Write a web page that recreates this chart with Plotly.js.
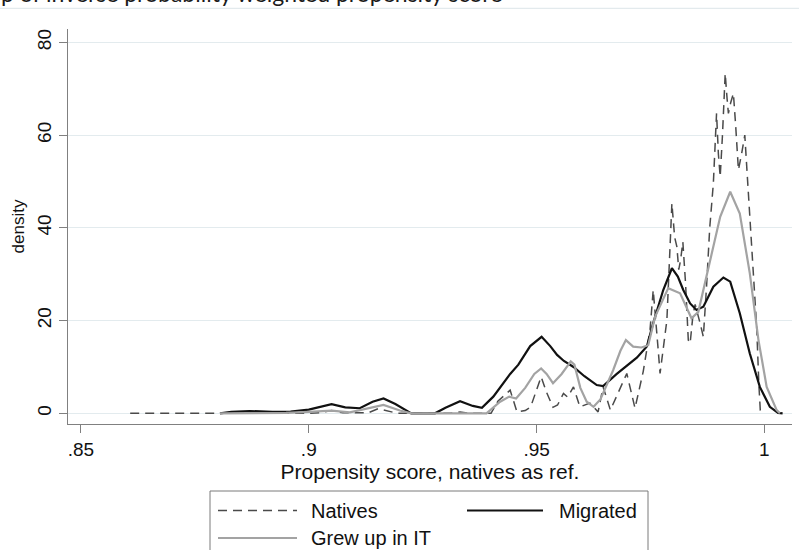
<!DOCTYPE html>
<html>
<head>
<meta charset="utf-8">
<script src="https://cdn.plot.ly/plotly-3.0.1.min.js"></script>
<style>
  html, body { margin: 0; padding: 0; background: #ffffff; }
  #chart { width: 799px; height: 550px; }
</style>
</head>
<body>
<div id="chart"></div>
<script>
// Kernel density of the propensity score (natives as reference), by group.
const seriesNames = ['Natives', 'Migrated', 'Grew up in IT'];

const nativesX = [0.8608, 0.9000, 0.9030, 0.9050, 0.9075, 0.9130, 0.9152, 0.9170, 0.9195, 0.9310,
  0.9332, 0.9355, 0.9400, 0.9415, 0.9442, 0.9457, 0.9475, 0.9487, 0.9500, 0.9510,
  0.9522, 0.9536, 0.9546, 0.9559, 0.9568, 0.9581, 0.9595, 0.9617, 0.9635, 0.9646,
  0.9662, 0.9698, 0.9716, 0.9734, 0.9749, 0.9756, 0.9767, 0.9771, 0.9786, 0.9797,
  0.9803, 0.9808, 0.9812, 0.9816, 0.9821, 0.9827, 0.9833, 0.9837, 0.9843, 0.9848,
  0.9859, 0.9866, 0.9873, 0.9880, 0.9888, 0.9895, 0.9899, 0.9903, 0.9908, 0.9914,
  0.9918, 0.9921, 0.9926, 0.9932, 0.9937, 0.9943, 0.9950, 0.9957, 0.9962, 0.9968,
  0.9976, 0.9983, 0.9988, 0.9991, 0.9999];
const nativesY = [0, 0, 0.2, 0.6, 0.1, 0.1, 1.0, 0.6, 0, 0,
  0.3, 0, 0, 2.6, 5.0, 0.3, 0.6, 1.4, 5.0, 7.9,
  4.5, 1.3, 1.8, 4.3, 3.5, 5.7, 1.4, 2.2, 0.3, 5.7,
  0.7, 8.6, 1.1, 9.0, 18.0, 26.6, 13.6, 8.6, 20.1, 45.3,
  38.0, 35.9, 31.0, 33.0, 37.0, 28.0, 15.8, 15.1, 21.0, 23.5,
  19.4, 16.5, 27.3, 40.0, 49.6, 64.7, 56.0, 51.0, 60.0, 73.3,
  68.0, 64.7, 67.0, 69.0, 62.0, 52.5, 56.0, 60.0, 52.0, 41.7,
  30.0, 18.7, 6.0, 0.7, 0];

const migratedX = [0.8805, 0.8830, 0.8870, 0.8920, 0.8960, 0.9000, 0.9050, 0.9080, 0.9112, 0.9140,
  0.9164, 0.9190, 0.9225, 0.9277, 0.9300, 0.9332, 0.9360, 0.9380, 0.9405, 0.9427,
  0.9442, 0.9460, 0.9486, 0.9511, 0.9530, 0.9545, 0.9560, 0.9581, 0.9605, 0.9632,
  0.9646, 0.9676, 0.9700, 0.9720, 0.9742, 0.9756, 0.9778, 0.9797, 0.9810, 0.9822,
  0.9837, 0.9851, 0.9866, 0.9888, 0.9910, 0.9925, 0.9946, 0.9968, 0.9990, 1.0012,
  1.0030, 1.0040];
const migratedY = [0, 0.3, 0.5, 0.3, 0.4, 0.8, 2.0, 1.3, 1.1, 2.5,
  3.2, 2.0, 0, 0, 1.2, 2.6, 1.6, 1.2, 3.6, 6.5,
  8.5, 10.5, 14.5, 16.5, 14.5, 12.6, 11.3, 10.0, 8.0, 6.1,
  5.9, 8.5, 10.5, 12.0, 14.4, 19.5, 26.6, 31.3, 29.5, 26.6,
  23.7, 22.3, 23.0, 27.3, 29.3, 28.4, 21.6, 12.9, 5.7, 1.4,
  0.1, 0];

const grewX = [0.8805, 0.8950, 0.9000, 0.9050, 0.9090, 0.9130, 0.9164, 0.9200, 0.9225, 0.9390,
  0.9420, 0.9440, 0.9455, 0.9475, 0.9495, 0.9510, 0.9522, 0.9536, 0.9555, 0.9575,
  0.9583, 0.9596, 0.9610, 0.9625, 0.9640, 0.9668, 0.9684, 0.9696, 0.9712, 0.9730,
  0.9745, 0.9760, 0.9789, 0.9815, 0.9840, 0.9855, 0.9881, 0.9903, 0.9925, 0.9946,
  0.9968, 0.9987, 1.0005, 1.0027, 1.0034];
const grewY = [0, 0.1, 0.3, 0.6, 0.2, 1.0, 1.8, 0.6, 0, 0,
  2.5, 3.6, 3.2, 5.5, 8.5, 9.7, 8.5, 6.5, 8.5, 11.2,
  10.5, 5.5, 2.5, 1.4, 3.0, 9.3, 13.5, 15.8, 14.4, 14.2,
  14.7, 20.8, 27.0, 25.9, 20.5, 21.9, 33.0, 42.4, 47.8, 43.1,
  30.2, 15.8, 5.7, 0.7, 0];

const xTickVals = [0.85, 0.9, 0.95, 1];
const xTickText = ['.85', '.9', '.95', '1'];
const yTickVals = [0, 20, 40, 60, 80];
const yTickText = ['0', '20', '40', '60', '80'];

const chartTitle = 'p of inverse probability weighted propensity score';
const xTitle = 'Propensity score, natives as ref.';
const yTitle = 'density';

// Line styles per series: dashed dark grey, solid black, solid light grey.
const lineStyles = [
  { color: '#4a4a4a', width: 1.5, dash: '9px,6px' },
  { color: '#111111', width: 2.2, dash: 'solid' },
  { color: '#a3a3a3', width: 2.2, dash: 'solid' }
];

const W = 799, H = 550;
const M = { l: 68, r: 7, t: 29, b: 126 };
const plotW = W - M.l - M.r, plotH = H - M.t - M.b;
// page pixel -> paper coordinates, for decorations outside the plot area
const px = x => (x - M.l) / plotW;
const py = y => (H - M.b - y) / plotH;

const font = 'Liberation Sans, Arial, sans-serif';

const traces = [
  [nativesX, nativesY], [migratedX, migratedY], [grewX, grewY]
].map((d, i) => ({
  type: 'scatter', mode: 'lines', x: d[0], y: d[1], name: seriesNames[i],
  line: Object.assign({ shape: 'linear' }, lineStyles[i]),
  showlegend: false, hoverinfo: 'skip'
}));

// Boxed legend below the axis: two columns, three entries
const legendBox = { x0: 210, x1: 648, y0: 491, y1: 560 };
const legendEntries = [
  { line: [218, 297], y: 510.5, textX: 309 },
  { line: [467, 543], y: 510.5, textX: 557 },
  { line: [218, 297], y: 538, textX: 309 }
];

const shapes = [
  // thin rule across the top of the page
  { type: 'line', xref: 'paper', yref: 'paper', x0: px(0), x1: px(W), y0: py(8.3), y1: py(8.3),
    line: { color: '#dde5e9', width: 1 } },
  { type: 'rect', xref: 'paper', yref: 'paper',
    x0: px(legendBox.x0), x1: px(legendBox.x1), y0: py(legendBox.y0), y1: py(legendBox.y1),
    line: { color: '#7a7a7a', width: 1 }, fillcolor: 'rgba(0,0,0,0)' }
];
const annotations = [
  { text: chartTitle, xref: 'paper', yref: 'paper', x: px(-1), y: py(9), xanchor: 'left', yanchor: 'bottom',
    showarrow: false, font: { family: 'Lato, Open Sans, sans-serif', size: 23, color: '#1a1a1a' } }
];
legendEntries.forEach((e, i) => {
  shapes.push({ type: 'line', xref: 'paper', yref: 'paper',
    x0: px(e.line[0]), x1: px(e.line[1]), y0: py(e.y), y1: py(e.y),
    line: { color: lineStyles[i].color, width: lineStyles[i].width, dash: lineStyles[i].dash } });
  annotations.push({ text: seriesNames[i], xref: 'paper', yref: 'paper', x: px(e.textX), y: py(e.y),
    xanchor: 'left', yanchor: 'middle', showarrow: false,
    font: { family: font, size: 20, color: '#111111' } });
});

const layout = {
  width: W, height: H,
  margin: M,
  paper_bgcolor: '#ffffff', plot_bgcolor: '#ffffff',
  showlegend: false,
  font: { family: font, color: '#111111' },
  xaxis: {
    range: [0.84715, 1.00606], tickmode: 'array', tickvals: xTickVals, ticktext: xTickText,
    showgrid: false, zeroline: false, showline: true, linecolor: '#808080', linewidth: 1,
    ticks: 'outside', ticklen: 8, tickcolor: '#808080', tickwidth: 1,
    tickfont: { family: font, size: 19, color: '#111111' },
    title: { text: xTitle, font: { family: font, size: 21, color: '#111111' }, standoff: 2 }
  },
  yaxis: {
    range: [-2.3, 82.9], tickmode: 'array', tickvals: yTickVals, ticktext: yTickText, tickangle: -90,
    showgrid: true, gridcolor: '#e3ebee', gridwidth: 1, zeroline: false,
    showline: true, linecolor: '#808080', linewidth: 1,
    ticks: 'outside', ticklen: 8, tickcolor: '#808080', tickwidth: 1,
    tickfont: { family: font, size: 19, color: '#111111' },
    title: { text: yTitle, font: { family: font, size: 17, color: '#111111' }, standoff: 5 }
  },
  shapes: shapes,
  annotations: annotations
};

Plotly.newPlot('chart', traces, layout, { displayModeBar: false, staticPlot: true });
</script>
</body>
</html>
